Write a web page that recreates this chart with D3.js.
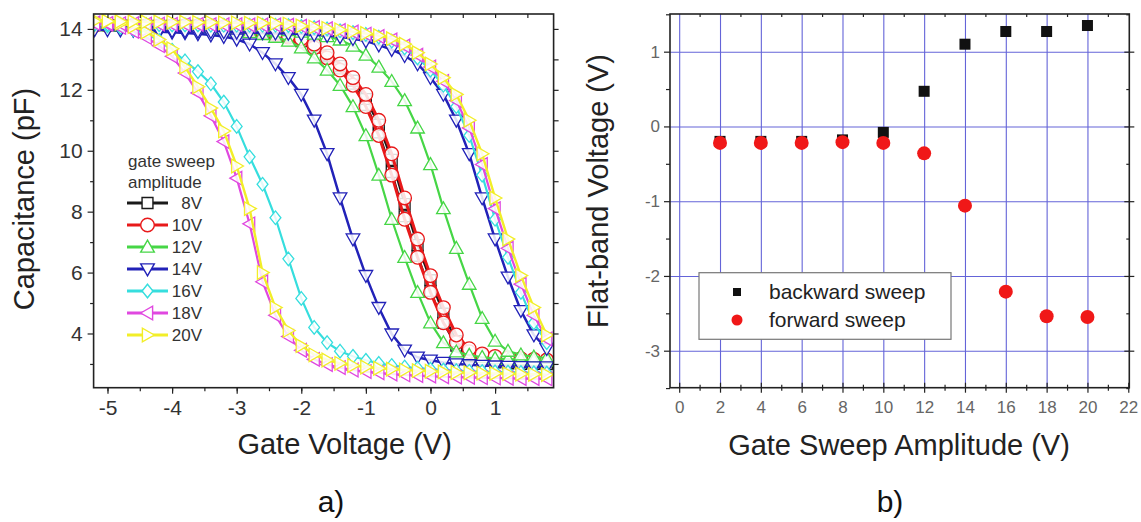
<!DOCTYPE html>
<html><head><meta charset="utf-8">
<script src="https://cdn.jsdelivr.net/npm/d3@7"></script>
<style>
html,body{margin:0;padding:0;background:#fff;}
svg{display:block;}
text{font-family:"Liberation Sans",Arial,sans-serif;}
</style></head><body>
<svg id="chart" width="1141" height="522"></svg>
<script>
// ---------------- DATA (panel a) ----------------
const gateVoltage = [-5.2,-5.0,-4.8,-4.6,-4.4,-4.2,-4.0,-3.8,-3.6,-3.4,-3.2,-3.0,-2.8,-2.6,-2.4,-2.2,-2.0,-1.8,-1.6,-1.4,-1.2,-1.0,-0.8,-0.6,-0.4,-0.2,0.0,0.2,0.4,0.6,0.8,1.0,1.2,1.4,1.6,1.8];
const sweepLabels = ["8V","10V","12V","14V","16V","18V","20V"];
const cap8Fwd  = [14.12,14.12,14.11,14.1,14.1,14.1,14.1,14.1,14.1,14.08,14.04,14.0,13.94,13.88,13.82,13.73,13.6,13.4,13.1,12.7,12.2,11.5,10.6,9.3,7.85,6.55,5.4,4.35,3.6,3.25,3.12,3.07,3.05,3.04,3.03,3.02];
const cap8Bwd  = [14.12,14.12,14.11,14.11,14.1,14.1,14.1,14.1,14.1,14.09,14.05,14.01,13.96,13.9,13.83,13.75,13.64,13.45,13.15,12.78,12.3,11.7,10.85,9.7,8.25,6.9,5.75,4.65,3.75,3.3,3.12,3.05,3.02,3.0,3.0,2.99];
const cap10Fwd = [14.12,14.12,14.11,14.1,14.1,14.1,14.1,14.1,14.1,14.08,14.04,14.0,13.94,13.88,13.82,13.73,13.6,13.38,13.05,12.65,12.15,11.45,10.5,9.2,7.75,6.5,5.35,4.35,3.7,3.4,3.29,3.22,3.18,3.16,3.14,3.12];
const cap10Bwd = [14.12,14.12,14.11,14.11,14.1,14.1,14.1,14.1,14.1,14.1,14.06,14.02,13.97,13.91,13.85,13.78,13.68,13.5,13.22,12.85,12.4,11.85,11.0,9.9,8.45,7.1,5.9,4.85,3.95,3.5,3.33,3.25,3.2,3.17,3.15,3.13];
const cap12Fwd = [14.12,14.11,14.1,14.1,14.1,14.1,14.1,14.1,14.08,14.04,14.0,13.94,13.88,13.82,13.73,13.6,13.38,13.05,12.65,12.15,11.45,10.5,9.2,7.75,6.5,5.35,4.35,3.7,3.4,3.29,3.22,3.18,3.16,3.14,3.12,3.1];
const cap12Bwd = [14.13,14.13,14.12,14.12,14.12,14.11,14.1,14.1,14.1,14.1,14.1,14.1,14.09,14.05,14.01,13.95,13.9,13.83,13.75,13.64,13.44,13.14,12.75,12.28,11.65,10.75,9.55,8.1,6.8,5.62,4.5,3.75,3.42,3.3,3.23,3.19];
const cap14Fwd = [null,null,null,13.95,13.93,13.91,13.89,13.87,13.84,13.8,13.75,13.66,13.5,13.22,12.85,12.4,11.85,11.0,9.9,8.45,7.1,5.9,4.85,3.98,3.45,3.22,3.12,3.05,3.0,2.97,2.95,2.93,2.92,2.91,2.9,2.9];
const cap14Bwd = [13.97,13.97,13.96,13.96,13.95,13.95,13.94,13.93,13.92,13.91,13.9,13.89,13.88,13.87,13.86,13.85,13.83,13.81,13.78,13.74,13.68,13.6,13.47,13.32,13.12,12.85,12.4,11.85,11.0,9.9,8.45,7.1,5.85,4.75,3.95,3.5];
const cap16Fwd = [14.15,14.1,14.05,13.97,13.85,13.62,13.3,12.95,12.6,12.2,11.6,10.8,9.8,8.9,7.8,6.45,5.15,4.2,3.7,3.42,3.25,3.12,3.02,2.95,2.9,2.86,2.83,2.8,2.78,2.76,2.75,2.74,2.73,2.72,2.71,2.7];
const cap16Bwd = [14.16,14.16,14.15,14.15,14.14,14.14,14.13,14.13,14.13,14.12,14.12,14.12,14.12,14.12,14.12,14.11,14.08,14.04,14.0,13.94,13.88,13.82,13.73,13.6,13.38,13.05,12.65,12.15,11.45,10.5,9.2,7.75,6.5,5.35,4.35,3.7];
const cap18Fwd = [14.2,14.15,14.05,13.92,13.72,13.45,13.1,12.55,11.9,11.15,10.3,9.1,7.6,5.7,4.6,3.9,3.45,3.15,2.98,2.88,2.8,2.75,2.71,2.67,2.64,2.62,2.6,2.58,2.57,2.56,2.55,2.54,2.53,2.52,2.52,2.51];
const cap18Bwd = [14.18,14.18,14.17,14.17,14.16,14.16,14.15,14.15,14.15,14.14,14.14,14.14,14.13,14.13,14.13,14.12,14.09,14.05,14.01,13.95,13.9,13.83,13.75,13.64,13.44,13.14,12.75,12.28,11.65,10.75,9.55,8.1,6.8,5.62,4.6,3.82];
const cap20Fwd = [14.3,14.25,14.18,14.08,13.9,13.65,13.35,12.75,12.1,11.4,10.65,9.5,8.1,6.0,4.85,4.1,3.6,3.3,3.13,3.02,2.95,2.9,2.86,2.83,2.8,2.78,2.76,2.74,2.72,2.71,2.7,2.69,2.68,2.67,2.66,2.65];
const cap20Bwd = [14.25,14.25,14.24,14.24,14.23,14.23,14.22,14.22,14.21,14.21,14.2,14.2,14.19,14.19,14.18,14.16,14.1,14.06,14.02,13.97,13.91,13.85,13.78,13.68,13.5,13.22,12.85,12.4,11.85,11.0,9.9,8.45,7.1,5.9,4.85,3.95];
const xTicksA = [-5,-4,-3,-2,-1,0,1];
const yTicksA = [4,6,8,10,12,14];

// ---------------- DATA (panel b) ----------------
const sweepAmplitude = [2,4,6,8,10,12,14,16,18,20];
const backwardVfb = [-0.2,-0.2,-0.2,-0.18,-0.08,0.47,1.1,1.27,1.27,1.35];
const forwardVfb  = [-0.22,-0.22,-0.22,-0.21,-0.22,-0.36,-1.06,-2.21,-2.54,-2.55];
const xTicksB = [0,2,4,6,8,10,12,14,16,18,20,22];
const yTicksB = [-3,-2,-1,0,1];

// ---------------- STYLE ----------------
const styleA = [
  {color:"#1a1a1a", sym:"square", lw:2.2},
  {color:"#e8191a", sym:"circle", lw:3},
  {color:"#46d646", sym:"up",     lw:2.2},
  {color:"#2222b8", sym:"down",   lw:2.5},
  {color:"#36dede", sym:"diamond",lw:2.2},
  {color:"#e048e0", sym:"left",   lw:2.2},
  {color:"#f2ee28", sym:"right",  lw:2.4}
];
const curvesA = [[cap8Fwd,cap8Bwd],[cap10Fwd,cap10Bwd],[cap12Fwd,cap12Bwd],[cap14Fwd,cap14Bwd],[cap16Fwd,cap16Bwd],[cap18Fwd,cap18Bwd],[cap20Fwd,cap20Bwd]];
const plainNum = d => String(d);

function symPath(kind, s){
  switch(kind){
    case "square": return `M${-s*0.8},${-s*0.8}H${s*0.8}V${s*0.8}H${-s*0.8}Z`;
    case "circle": return `M${s},0A${s},${s} 0 1,1 ${-s},0A${s},${s} 0 1,1 ${s},0Z`;
    case "up":     return `M0,${-s}L${s},${s*0.75}L${-s},${s*0.75}Z`;
    case "down":   return `M0,${s}L${s},${-s*0.75}L${-s},${-s*0.75}Z`;
    case "left":   return `M${-s},0L${s*0.75},${-s}L${s*0.75},${s}Z`;
    case "right":  return `M${s},0L${-s*0.75},${-s}L${-s*0.75},${s}Z`;
    case "diamond":return `M0,${-s}L${s*0.8},0L0,${s}L${-s*0.8},0Z`;
  }
}

const svg = d3.select("#chart");
const font = '"Liberation Sans",Arial,sans-serif';

// ================= PANEL A =================
const A = {left:93.6, right:553.6, top:14, bottom:387.7};
const xA = d3.scaleLinear().domain([-5.215,1.906]).range([A.left,A.right]);
const yA = d3.scaleLinear().domain([2.22,14.49]).range([A.bottom,A.top]);

svg.append("clipPath").attr("id","clipA").append("rect")
  .attr("x",A.left).attr("y",A.top).attr("width",A.right-A.left).attr("height",A.bottom-A.top);

const gA = svg.append("g").attr("clip-path","url(#clipA)");
const lineA = d3.line().defined(d=>d[1]!=null).x(d=>xA(d[0])).y(d=>yA(d[1]));

curvesA.forEach((pair,i)=>{
  const st = styleA[i];
  const g = gA.append("g");
  pair.forEach(vals=>{
    const pts = gateVoltage.map((v,k)=>[v,vals[k]]);
    g.append("path").attr("d",lineA(pts)).attr("fill","none")
      .attr("stroke",st.color).attr("stroke-width",st.lw);
  });
  pair.forEach(vals=>{
    const pts = gateVoltage.map((v,k)=>[v,vals[k]]).filter(d=>d[1]!=null);
    g.selectAll(null).data(pts).enter().append("path")
      .attr("transform",d=>`translate(${xA(d[0])},${yA(d[1])})`)
      .attr("d",symPath(st.sym,6.8))
      .attr("fill","#fff").attr("fill-opacity",0.85)
      .attr("stroke",st.color).attr("stroke-width",1.3);
  });
});

// axes A
const axA = svg.append("g");
axA.append("g").attr("transform",`translate(0,${A.bottom})`)
  .call(d3.axisBottom(xA).tickValues(d3.range(-5,2,0.5)).tickSize(3.5).tickFormat(""));
axA.append("g").attr("transform",`translate(0,${A.bottom})`)
  .call(d3.axisBottom(xA).tickValues(xTicksA).tickSize(6).tickPadding(6).tickFormat(plainNum))
  .call(g=>g.selectAll("text").attr("font-size",21).attr("fill","#333").attr("font-family",font));
axA.append("g").attr("transform",`translate(${A.left},0)`)
  .call(d3.axisLeft(yA).tickValues([3,5,7,9,11,13]).tickSize(3.5).tickFormat(""));
axA.append("g").attr("transform",`translate(${A.left},0)`)
  .call(d3.axisLeft(yA).tickValues(yTicksA).tickSize(6).tickPadding(5).tickFormat(plainNum))
  .call(g=>g.selectAll("text").attr("font-size",21).attr("fill","#333").attr("font-family",font));
axA.append("g").attr("transform",`translate(0,${A.top})`)
  .call(d3.axisTop(xA).tickValues(d3.range(-5,2,0.5)).tickSize(-4).tickFormat(""));
axA.append("g").attr("transform",`translate(${A.right},0)`)
  .call(d3.axisRight(yA).tickValues(d3.range(3,15,1)).tickSize(5).tickFormat(""));
axA.selectAll(".domain").remove();
axA.selectAll("line").attr("stroke","#222").attr("stroke-width",1.2);
svg.append("rect").attr("x",A.left).attr("y",A.top).attr("width",A.right-A.left).attr("height",A.bottom-A.top)
  .attr("fill","none").attr("stroke","#222").attr("stroke-width",1.6);

svg.append("text").attr("x",344.6).attr("y",454).attr("text-anchor","middle")
  .attr("font-size",29).attr("fill","#222").text("Gate Voltage (V)");
svg.append("text").attr("transform","translate(34,199) rotate(-90)").attr("text-anchor","middle")
  .attr("font-size",29).attr("fill","#222").text("Capacitance (pF)");

// legend A
const legA = svg.append("g");
legA.append("text").attr("x",128).attr("y",167).attr("font-size",17).attr("fill","#333").text("gate sweep");
legA.append("text").attr("x",128).attr("y",188).attr("font-size",17).attr("fill","#333").text("amplitude");
sweepLabels.forEach((lab,i)=>{
  const st = styleA[i];
  const y = 203 + i*22;
  legA.append("line").attr("x1",127).attr("x2",168).attr("y1",y).attr("y2",y)
    .attr("stroke",st.color).attr("stroke-width",3);
  legA.append("path").attr("transform",`translate(147.5,${y})`).attr("d",symPath(st.sym,6.8))
    .attr("fill","#fff").attr("stroke",st.color).attr("stroke-width",1.4);
  legA.append("text").attr("x",202).attr("y",y+6).attr("text-anchor","end")
    .attr("font-size",17).attr("fill","#333").text(lab);
});

svg.append("text").attr("x",331).attr("y",512).attr("text-anchor","middle")
  .attr("font-family",'"Liberation Serif","DejaVu Serif",serif').attr("font-size",30).attr("fill","#111").text("a)");

// ================= PANEL B =================
const B = {left:670, right:1129.3, top:14, bottom:387.7};
const xB = d3.scaleLinear().domain([-0.45,22.05]).range([B.left,B.right]);
const yB = d3.scaleLinear().domain([-3.495,1.504]).range([B.bottom,B.top]);

const gridB = svg.append("g");
gridB.append("g").attr("transform",`translate(0,${B.bottom})`)
  .call(d3.axisBottom(xB).tickValues(xTicksB.filter(d=>d<22)).tickSize(-(B.bottom-B.top)).tickFormat(""));
gridB.append("g").attr("transform",`translate(${B.left},0)`)
  .call(d3.axisLeft(yB).tickValues(yTicksB).tickSize(-(B.right-B.left)).tickFormat(""));
gridB.selectAll(".domain").remove();
gridB.selectAll("line").attr("stroke","#6464d8").attr("stroke-width",1.1);

const axB = svg.append("g");
const minorX = d3.range(1,22,2), minorY = d3.range(-3.5,1.6,0.5).filter(v=>Math.abs(v%1)>0.1);
axB.append("g").attr("transform",`translate(0,${B.bottom})`)
  .call(d3.axisBottom(xB).tickValues(xTicksB).tickSize(5).tickPadding(8).tickFormat(plainNum))
  .call(g=>g.selectAll("text").attr("font-size",17).attr("fill","#666").attr("font-family",font));
axB.append("g").attr("transform",`translate(0,${B.bottom})`)
  .call(d3.axisBottom(xB).tickValues(xTicksB).tickSize(-5).tickFormat(""));
axB.append("g").attr("transform",`translate(0,${B.bottom})`)
  .call(d3.axisBottom(xB).tickValues(minorX).tickSize(3).tickFormat(""));
axB.append("g").attr("transform",`translate(0,${B.bottom})`)
  .call(d3.axisBottom(xB).tickValues(minorX).tickSize(-3).tickFormat(""));
axB.append("g").attr("transform",`translate(${B.left},0)`)
  .call(d3.axisLeft(yB).tickValues(yTicksB).tickSize(6).tickPadding(4).tickFormat(plainNum))
  .call(g=>g.selectAll("text").attr("font-size",17).attr("fill","#666").attr("font-family",font));
axB.append("g").attr("transform",`translate(${B.left},0)`)
  .call(d3.axisLeft(yB).tickValues(minorY).tickSize(4).tickFormat(""));
axB.append("g").attr("transform",`translate(${B.right},0)`)
  .call(d3.axisRight(yB).tickValues(yTicksB).tickSize(5).tickFormat(""));
axB.append("g").attr("transform",`translate(${B.right},0)`)
  .call(d3.axisRight(yB).tickValues(yTicksB).tickSize(-5).tickFormat(""));
axB.append("g").attr("transform",`translate(${B.right},0)`)
  .call(d3.axisRight(yB).tickValues(minorY).tickSize(-3).tickFormat(""));
axB.append("g").attr("transform",`translate(0,${B.top})`)
  .call(d3.axisTop(xB).tickValues(minorX).tickSize(-3).tickFormat(""));
axB.selectAll(".domain").remove();
axB.selectAll("line").attr("stroke","#222").attr("stroke-width",1.2);
svg.append("rect").attr("x",B.left).attr("y",B.top).attr("width",B.right-B.left).attr("height",B.bottom-B.top)
  .attr("fill","none").attr("stroke","#222").attr("stroke-width",1.6);

// points
svg.append("g").selectAll("rect").data(sweepAmplitude.map((a,i)=>[a,backwardVfb[i]])).enter().append("rect")
  .attr("x",d=>xB(d[0])-5.5).attr("y",d=>yB(d[1])-5.5).attr("width",11).attr("height",11).attr("fill","#111");
svg.append("g").selectAll("circle").data(sweepAmplitude.map((a,i)=>[a,forwardVfb[i]])).enter().append("circle")
  .attr("cx",d=>xB(d[0])).attr("cy",d=>yB(d[1])).attr("r",7).attr("fill","#f01818");

// legend B
const legB = svg.append("g");
legB.append("rect").attr("x",699).attr("y",272.7).attr("width",252).attr("height",66.6)
  .attr("fill","#fff").attr("stroke","#777").attr("stroke-width",1.2);
legB.append("rect").attr("x",737-4).attr("y",292-4).attr("width",8).attr("height",8).attr("fill","#111");
legB.append("circle").attr("cx",737).attr("cy",320).attr("r",5.5).attr("fill","#f01818");
legB.append("text").attr("x",769).attr("y",299).attr("font-size",21).attr("fill","#222").text("backward sweep");
legB.append("text").attr("x",769).attr("y",327).attr("font-size",21).attr("fill","#222").text("forward sweep");

svg.append("text").attr("x",899).attr("y",455).attr("text-anchor","middle")
  .attr("font-size",29).attr("fill","#222").text("Gate Sweep Amplitude (V)");
svg.append("text").attr("transform","translate(608,191) rotate(-90)").attr("text-anchor","middle")
  .attr("font-size",29).attr("fill","#222").text("Flat-band Voltage (V)");
svg.append("text").attr("x",890).attr("y",512).attr("text-anchor","middle")
  .attr("font-family",'"Liberation Serif","DejaVu Serif",serif').attr("font-size",30).attr("fill","#111").text("b)");
</script>
</body></html>
